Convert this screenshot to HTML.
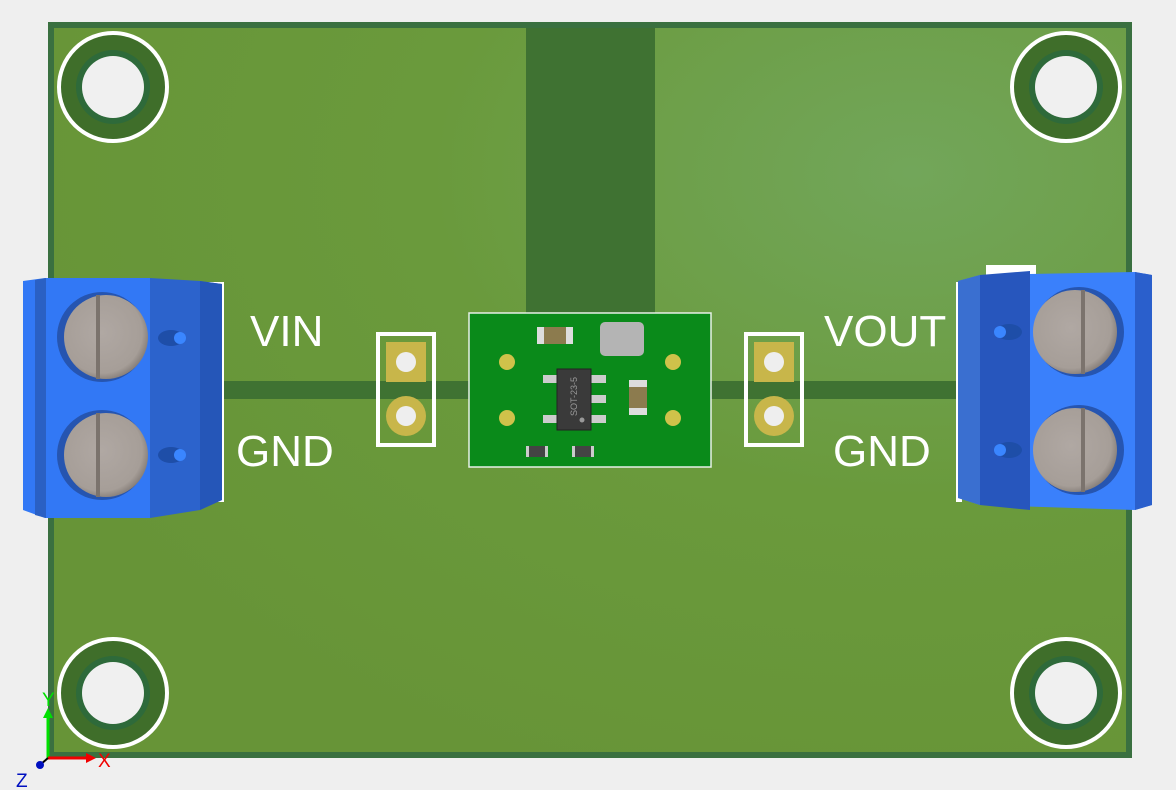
<!DOCTYPE html>
<html><head><style>
html,body{margin:0;padding:0;background:#efefef;}
svg{display:block;}
text{font-family:"Liberation Sans",sans-serif;}
</style></head><body>
<svg width="1176" height="790" viewBox="0 0 1176 790" xmlns="http://www.w3.org/2000/svg">
<defs>
<radialGradient id="bg" cx="0.8" cy="0.2" r="0.9">
<stop offset="0" stop-color="#72a65a"/><stop offset="0.5" stop-color="#6a9a3c"/><stop offset="1" stop-color="#679437"/>
</radialGradient>
<radialGradient id="screw" cx="0.45" cy="0.45" r="0.6">
<stop offset="0" stop-color="#b0a8a3"/><stop offset="0.8" stop-color="#a69e98"/><stop offset="1" stop-color="#7c746f"/>
</radialGradient>
<g id="hole">
<circle r="54" fill="#3f6e2a" stroke="#fff" stroke-width="4"/>
<circle r="37" fill="#2e6a3a"/>
<circle r="31" fill="#f0f0f0"/>
</g>
</defs>
<rect width="1176" height="790" fill="#efefef"/>
<rect x="48" y="22" width="1084" height="736" fill="#3a7040"/>
<rect x="54" y="28" width="1072" height="724" fill="url(#bg)"/>
<rect x="526" y="28" width="129" height="285" fill="#3f7232"/>
<rect x="222" y="381" width="740" height="18" fill="#3f7232"/>
<use href="#hole" x="113" y="87"/>
<use href="#hole" x="1066" y="87"/>
<use href="#hole" x="113" y="693"/>
<use href="#hole" x="1066" y="693"/>
<g>
<rect x="378" y="334" width="56" height="111" fill="none" stroke="#fff" stroke-width="4"/>
<rect x="386" y="342" width="40" height="40" fill="#c8b64a"/>
<circle cx="406" cy="362" r="10" fill="#eee"/>
<circle cx="406" cy="416" r="20" fill="#c8b64a"/>
<circle cx="406" cy="416" r="10" fill="#eee"/>
</g>
<g>
<rect x="746" y="334" width="56" height="111" fill="none" stroke="#fff" stroke-width="4"/>
<rect x="754" y="342" width="40" height="40" fill="#c8b64a"/>
<circle cx="774" cy="362" r="10" fill="#eee"/>
<circle cx="774" cy="416" r="20" fill="#c8b64a"/>
<circle cx="774" cy="416" r="10" fill="#eee"/>
</g>
<rect x="469" y="313" width="242" height="154" fill="#0a8a1a" stroke="#e8f0e8" stroke-width="1.5"/>
<rect x="537" y="327" width="36" height="17" fill="#ddd"/>
<rect x="544" y="327" width="22" height="17" fill="#8c7b4e"/>
<rect x="600" y="322" width="44" height="34" rx="5" fill="#b4b4b4"/>
<circle cx="507" cy="362" r="8" fill="#cfc24a"/>
<circle cx="507" cy="418" r="8" fill="#cfc24a"/>
<circle cx="673" cy="362" r="8" fill="#cfc24a"/>
<circle cx="673" cy="418" r="8" fill="#cfc24a"/>
<rect x="543" y="375" width="16" height="8" fill="#ccc"/>
<rect x="543" y="415" width="16" height="8" fill="#ccc"/>
<rect x="590" y="375" width="16" height="8" fill="#ccc"/>
<rect x="590" y="395" width="16" height="8" fill="#ccc"/>
<rect x="590" y="415" width="16" height="8" fill="#ccc"/>
<rect x="557" y="369" width="34" height="61" fill="#3a3a3a" stroke="#222"/>
<text x="0" y="0" font-size="9" fill="#999" transform="translate(577,416) rotate(-90)">SOT-23-5</text>
<circle cx="582" cy="420" r="2.5" fill="#999"/>
<rect x="629" y="380" width="18" height="35" fill="#ddd"/>
<rect x="629" y="387" width="18" height="21" fill="#8c7b4e"/>
<rect x="526" y="446" width="22" height="11" fill="#ccc"/>
<rect x="529" y="446" width="16" height="11" fill="#444"/>
<rect x="572" y="446" width="22" height="11" fill="#ccc"/>
<rect x="575" y="446" width="16" height="11" fill="#444"/>
<g>
<rect x="150" y="282" width="74" height="220" fill="#fff"/>
<polygon points="23,281 45,278 150,278 150,518 45,518 23,510" fill="#3278f5"/>
<polygon points="35,280 46,278 46,518 35,515" fill="#2a60c4"/>
<polygon points="150,278 200,281 222,284 222,500 200,510 150,518" fill="#2c63cc"/>
<polygon points="200,281 222,284 222,500 200,510" fill="#2556b8"/>
<circle cx="102" cy="337" r="45" fill="#2655b0"/>
<circle cx="106" cy="337" r="42" fill="url(#screw)"/>
<rect x="96" y="295" width="4" height="84" fill="#7b736d"/>
<circle cx="102" cy="455" r="45" fill="#2655b0"/>
<circle cx="106" cy="455" r="42" fill="url(#screw)"/>
<rect x="96" y="413" width="4" height="84" fill="#7b736d"/>
<ellipse cx="171" cy="338" rx="13" ry="8" fill="#1e4ea8"/>
<circle cx="180" cy="338" r="6" fill="#3a86ff"/>
<ellipse cx="171" cy="455" rx="13" ry="8" fill="#1e4ea8"/>
<circle cx="180" cy="455" r="6" fill="#3a86ff"/>
</g>
<g>
<rect x="986" y="265" width="50" height="14" fill="#fff"/>
<rect x="956" y="282" width="6" height="220" fill="#fff"/>
<polygon points="958,281 980,275 1135,272 1152,275 1152,505 1135,510 980,505 958,498" fill="#3a80fb"/>
<polygon points="958,281 980,275 980,505 958,498" fill="#3a6fd0"/>
<polygon points="980,275 1030,271 1030,510 980,505" fill="#2756bd"/>
<polygon points="1135,272 1152,275 1152,505 1135,510" fill="#2a5fcc"/>
<circle cx="1079" cy="332" r="45" fill="#2655b0"/>
<circle cx="1075" cy="332" r="42" fill="url(#screw)"/>
<rect x="1081" y="290" width="4" height="84" fill="#7b736d"/>
<circle cx="1079" cy="450" r="45" fill="#2655b0"/>
<circle cx="1075" cy="450" r="42" fill="url(#screw)"/>
<rect x="1081" y="408" width="4" height="84" fill="#7b736d"/>
<ellipse cx="1009" cy="332" rx="13" ry="8" fill="#1e4ea8"/>
<circle cx="1000" cy="332" r="6" fill="#3a86ff"/>
<ellipse cx="1009" cy="450" rx="13" ry="8" fill="#1e4ea8"/>
<circle cx="1000" cy="450" r="6" fill="#3a86ff"/>
</g>
<g fill="#fff" font-size="44">
<text x="250" y="346">VIN</text>
<text x="236" y="466">GND</text>
<text x="824" y="346">VOUT</text>
<text x="833" y="466">GND</text>
</g>
<line x1="48" y1="758" x2="48" y2="716" stroke="#00e000" stroke-width="3"/>
<polygon points="43,718 53,718 48,708" fill="#00e000"/>
<line x1="48" y1="758" x2="88" y2="758" stroke="#f00000" stroke-width="3"/>
<polygon points="86,753 86,763 96,758" fill="#f00000"/>
<line x1="40" y1="765" x2="48" y2="758" stroke="#000" stroke-width="2"/>
<circle cx="40" cy="765" r="4" fill="#0010c0"/>
<text x="42" y="706" font-size="19" fill="#00e000">Y</text>
<text x="98" y="767" font-size="19" fill="#f00000">X</text>
<text x="16" y="787" font-size="19" fill="#0010c0">Z</text>
</svg>
</body></html>
